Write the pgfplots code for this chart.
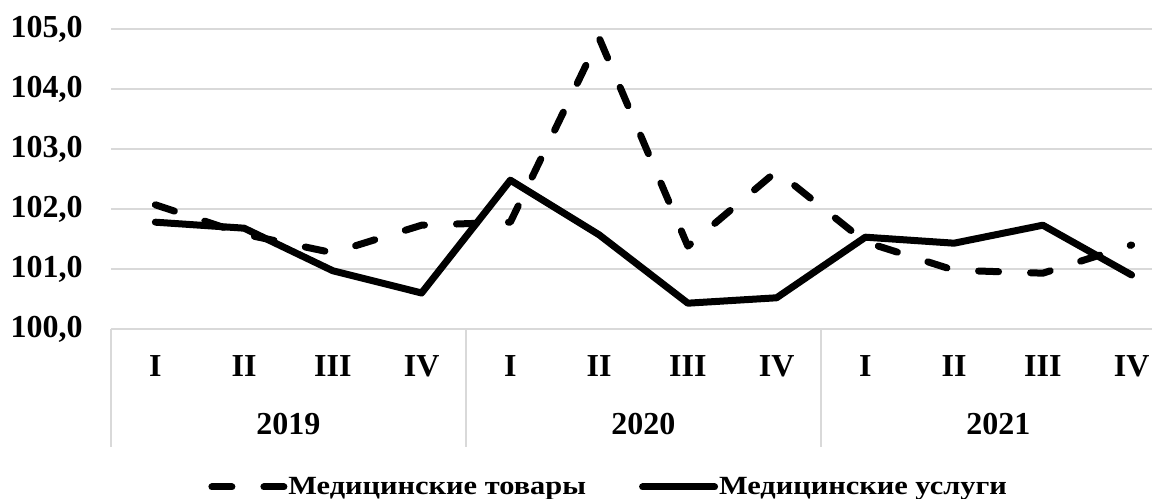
\documentclass[border=0pt]{standalone}
\usepackage{fontspec}
\setmainfont{Liberation Serif}
\usepackage{graphicx}
\usepackage{pgfplots}
\pgfplotsset{compat=1.18}
\definecolor{gridgray}{HTML}{D9D9D9}
\newcommand{\legtext}[1]{\scalebox{0.95}[0.82]{#1}}

\begin{document}
\begin{tikzpicture}
  \begin{axis}[
    name=a,
    scale only axis,
    width=520.5pt, height=150pt,
    xmin=-0.5, xmax=11.23,
    ymin=100, ymax=105,
    clip=false,
    axis line style={draw=none},
    major tick length=0pt,
    ytick={100,101,...,105},
    ymajorgrids,
    grid style={gridgray, line width=0.75pt},
    yticklabel style={anchor=east, inner sep=0pt, xshift=-14pt,
      /pgf/number format/fixed,
      /pgf/number format/fixed zerofill,
      /pgf/number format/precision=1,
      /pgf/number format/use comma,
      /pgf/number format/assume math mode=true},
    xtick={0,...,11},
    xticklabels={I,II,III,IV,I,II,III,IV,I,II,III,IV},
    xticklabel style={anchor=center, yshift=-18.5pt},
    tick label style={font=\fontsize{16}{18}\selectfont\bfseries},
    legend style={draw=none, fill=none, inner sep=0pt,
      at={(48.5pt,-79pt)}, anchor=west,
      font=\fontsize{16}{18}\selectfont\bfseries,
      nodes={inner xsep=0.5pt, inner ysep=0pt}},
    legend columns=2,
    legend cell align=left,
    /tikz/every even column/.append style={column sep=26pt},
    legend image code/.code={\draw[#1] (0pt,0pt) -- (36pt,0pt);},
  ]
    % quarterly indices, goods (dashed)
    \addplot[black, line width=3.5pt, line cap=round, line join=round,
      dash pattern=on 10pt off 16pt]
    coordinates {(0,102.07) (1,101.58) (2,101.27) (3,101.73)
      (4,101.78) (5,104.85) (6,101.38) (7,102.63)
      (8,101.45) (9,100.98) (10,100.93) (11,101.40)};
    \addlegendentry{\legtext{Медицинские товары}}
    % services (solid)
    \addplot[black, line width=3.5pt, line cap=round, line join=round]
    coordinates {(0,101.78) (1,101.68) (2,100.97) (3,100.60)
      (4,102.48) (5,101.57) (6,100.43) (7,100.52)
      (8,101.53) (9,101.43) (10,101.73) (11,100.90)};
    \addlegendentry{\legtext{Медицинские услуги}}

    % year group separators and labels
    \draw[gridgray, line width=0.75pt] (axis cs:-0.5,100) -- ++(0pt,-59pt);
    \draw[gridgray, line width=0.75pt] (axis cs:3.5,100) -- ++(0pt,-59pt);
    \draw[gridgray, line width=0.75pt] (axis cs:7.5,100) -- ++(0pt,-59pt);
    \node[font=\fontsize{16}{18}\selectfont\bfseries, yshift=-47.5pt] at (axis cs:1.5,100) {2019};
    \node[font=\fontsize{16}{18}\selectfont\bfseries, yshift=-47.5pt] at (axis cs:5.5,100) {2020};
    \node[font=\fontsize{16}{18}\selectfont\bfseries, yshift=-47.5pt] at (axis cs:9.5,100) {2021};
  \end{axis}
  \pgfresetboundingbox
  \path ([shift={(-55.5pt,-85pt)}]a.south west) rectangle ([shift={(0pt,14.5pt)}]a.north east);
\end{tikzpicture}
\end{document}
